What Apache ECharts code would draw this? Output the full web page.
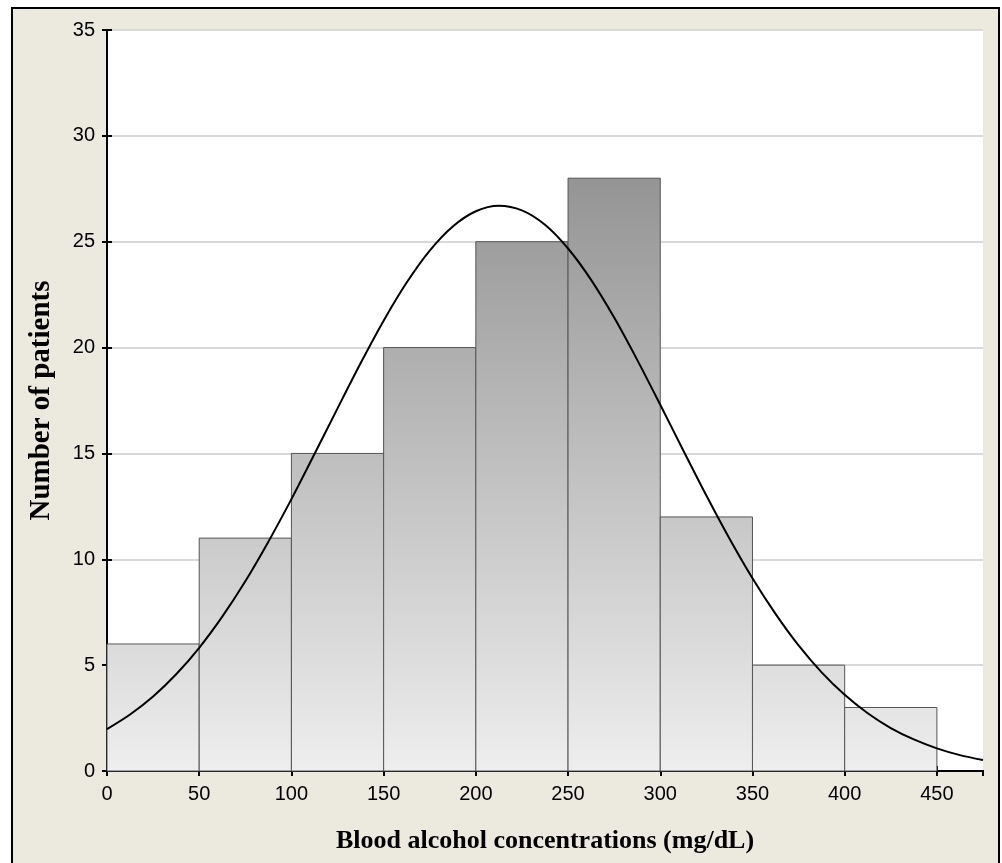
<!DOCTYPE html>
<html>
<head>
<meta charset="utf-8">
<script src="https://cdn.jsdelivr.net/npm/echarts@6/dist/echarts.min.js"></script>
<style>
  html, body { margin: 0; padding: 0; background: #ffffff; }
  #main { width: 1002px; height: 863px; }
</style>
</head>
<body>
<div id="main"></div>
<script>
// histogram bins (mg/dL) and patient counts
const binStart = [0, 50, 100, 150, 200, 250, 300, 350, 400];
const binEnd = [50, 100, 150, 200, 250, 300, 350, 400, 450];
const counts = [6, 11, 15, 20, 25, 28, 12, 5, 3];

// fitted normal curve
const curveX = [0, 12.5, 25, 37.5, 50, 62.5, 75, 87.5, 100, 112.5, 125, 137.5, 150, 162.5, 175, 187.5, 200, 212.5,
  225, 237.5, 250, 262.5, 275, 287.5, 300, 312.5, 325, 337.5, 350, 362.5, 375, 387.5, 400, 412.5, 425, 437.5, 450, 462.5, 475];
const curveY = [1.98, 2.67, 3.52, 4.57, 5.82, 7.29, 8.96, 10.83, 12.84, 14.97, 17.13, 19.26, 21.27, 23.07, 24.58, 25.72, 26.44, 26.7,
  26.48, 25.8, 24.68, 23.2, 21.42, 19.42, 17.3, 15.14, 13.01, 10.98, 9.1, 7.42, 5.93, 4.66, 3.6, 2.73, 2.03, 1.49, 1.07, 0.75, 0.52];

var myChart = echarts.init(document.getElementById("main"));

// gradient spans the whole plot height, not each bar
var barFill = new echarts.graphic.LinearGradient(0, 30, 0, 771, [
  { offset: 0, color: "#7e7e7e" },
  { offset: 1, color: "#eeeeee" },
], true);

var histData = binStart.map(function (s, i) {
  return [s, binEnd[i], counts[i]];
});
var curveData = curveX.map(function (x, i) {
  return [x, curveY[i]];
});

var axisFont = { fontFamily: "Liberation Sans", fontSize: 20, color: "#000" };

var option = {
  backgroundColor: "#ffffff",
  animation: false,
  graphic: [
    {
      type: "rect",
      z: -10,
      shape: { x: 12, y: 8, width: 987, height: 870 },
      style: { fill: "#ece9df", stroke: "#000", lineWidth: 2 },
    },
  ],
  grid: { left: 107, top: 30, right: 19, bottom: 92, backgroundColor: "#ffffff", show: true, borderWidth: 0 },
  xAxis: [
    {
      type: "value",
      min: 0,
      max: 475,
      interval: 50,
      name: "Blood alcohol concentrations (mg/dL)",
      nameLocation: "middle",
      nameGap: 57,
      nameTextStyle: { fontFamily: "Liberation Serif", fontSize: 26, fontWeight: "bold", color: "#000" },
      axisLine: { lineStyle: { color: "#000", width: 2 } },
      axisTick: { inside: true, length: 5, lineStyle: { color: "#000", width: 2 } },
      axisLabel: Object.assign({ margin: 13, showMaxLabel: false }, axisFont),
      splitLine: { show: false },
    },
    {
      type: "value",
      position: "top",
      min: 0,
      max: 475,
      interval: 50,
      axisLine: { lineStyle: { color: "#000", width: 2 } },
      axisTick: { inside: true, length: 5, lineStyle: { color: "#000", width: 2 } },
      axisLabel: { show: false },
      splitLine: { show: false },
    },
  ],
  yAxis: [
    {
      type: "value",
      min: 0,
      max: 35,
      interval: 5,
      name: "Number of patients",
      nameLocation: "middle",
      nameGap: 51,
      nameTextStyle: { fontFamily: "Liberation Serif", fontSize: 29, fontWeight: "bold", color: "#000" },
      axisLine: { lineStyle: { color: "#000", width: 2 } },
      axisTick: { inside: true, length: 5, lineStyle: { color: "#000", width: 2 } },
      axisLabel: Object.assign({ margin: 12 }, axisFont),
      splitLine: { lineStyle: { color: "#d9d9d9", width: 2 } },
    },
    {
      type: "value",
      position: "right",
      min: 0,
      max: 35,
      interval: 5,
      axisLine: { show: true, lineStyle: { color: "#000", width: 2 } },
      axisTick: { show: true, inside: true, length: 5, lineStyle: { color: "#000", width: 2 } },
      axisLabel: { show: false },
      splitLine: { show: false },
    },
  ],
  series: [
    {
      type: "custom",
      xAxisIndex: 0,
      yAxisIndex: 0,
      z: 2,
      data: histData,
      renderItem: function (params, api) {
        var p0 = api.coord([api.value(0), api.value(2)]);
        var p1 = api.coord([api.value(1), 0]);
        return {
          type: "rect",
          shape: { x: p0[0], y: p0[1], width: p1[0] - p0[0], height: p1[1] - p0[1] },
          style: { fill: barFill, stroke: "#555555", lineWidth: 1 },
        };
      },
    },
    {
      type: "line",
      xAxisIndex: 0,
      yAxisIndex: 0,
      z: 5,
      smooth: 0.3,
      showSymbol: false,
      data: curveData,
      lineStyle: { color: "#000", width: 2 },
    },
  ],
};

myChart.setOption(option);
</script>
</body>
</html>
